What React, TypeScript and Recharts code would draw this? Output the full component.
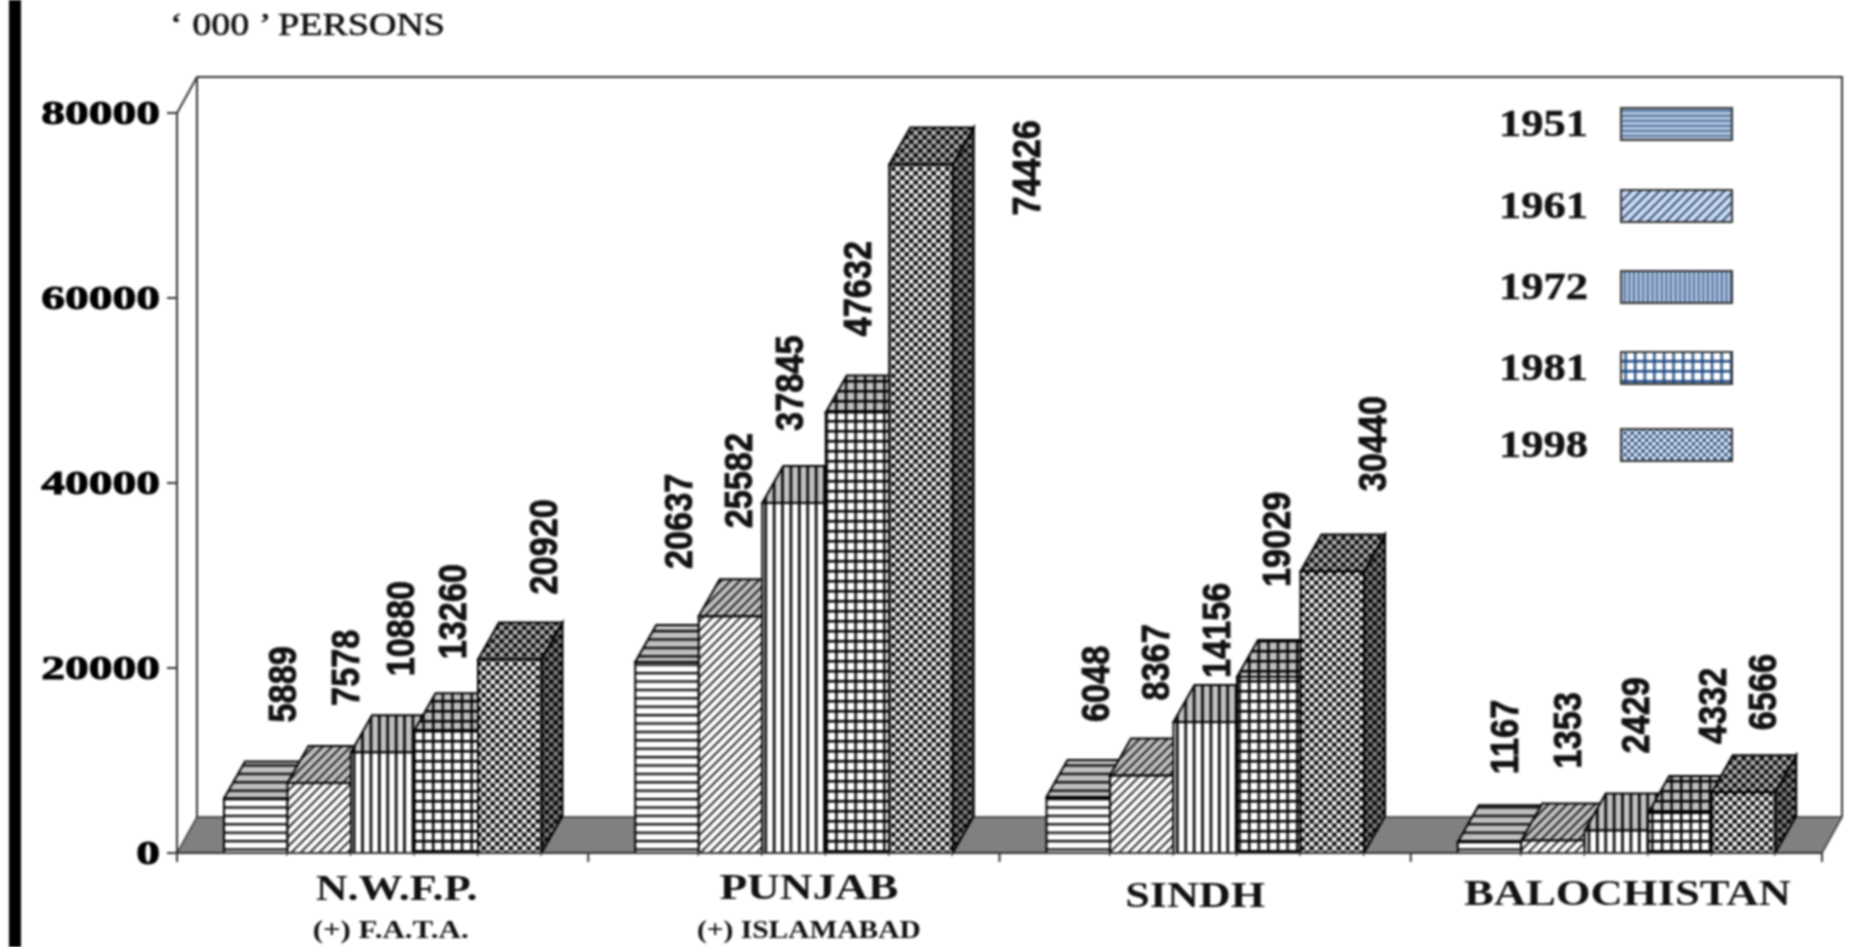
import React from "react";
import { BarChart, Bar, XAxis, YAxis, Legend, LabelList } from "recharts";

const provinces = ["N.W.F.P.", "PUNJAB", "SINDH", "BALOCHISTAN"];
const subtitles = ["(+) F.A.T.A.", "(+) ISLAMABAD", "", ""];
const years = ["1951", "1961", "1972", "1981", "1998"];
const pop1951 = [5889, 20637, 6048, 1167];
const pop1961 = [7578, 25582, 8367, 1353];
const pop1972 = [10880, 37845, 14156, 2429];
const pop1981 = [13260, 47632, 19029, 4332];
const pop1998 = [20920, 74426, 30440, 6566];
const yTicks = [0, 20000, 40000, 60000, 80000];

const seriesValues = [pop1951, pop1961, pop1972, pop1981, pop1998];
const rows = provinces.map((name, i) => {
  const row: any = { name, sub: subtitles[i] };
  years.forEach((y, s) => (row[y] = seriesValues[s][i]));
  return row;
});

// layout and style, apart from the data
const W = 1851, H = 947;
const LEFT = 177, TOP = 113, RIGHT = 1822, BOTTOM = 853;
const WALL_DX = 20, WALL_DY = 36;
const BAR_DX = 21, BAR_DY = 37;
const BAND = (RIGHT - LEFT) / provinces.length;
const SERIF = "'Liberation Serif', serif";
const SANS = "'Liberation Sans', sans-serif";

// hand placement of the rotated value labels, per series then province
const labelDx = [[27, 12, 17, 15], [26, 8, 14, 15], [18, -4, 11, 19], [6, 0, 8, 33], [34, 106, 40, 19]];
const labelGap = [[76, 93, 75, 68], [77, 88, 75, 72], [76, 72, 44, 77], [71, 76, 90, 69], [65, -51, 80, 62]];

const mainWidths = [162, 179, 140, 327];
const subWidths = [156, 224, 0, 0];
const mainDx = [14, 15, -10, 11];
const subDx = [8, 15, 0, 0];
const mainBaseline = [47, 46, 54, 52];
const legendRowY = [24, 106, 187, 268, 345];

function marks(kind: string, ink: string, light: string, under: string) {
  if (kind === "1951") return { size: [8.4, 8.4], el: <rect x={0} y={0} width={8.4} height={2.2} fill={ink} /> };
  if (kind === "1961") return { size: [9.3, 9.3], el: <path d="M-2.3 2.3L2.3 -2.3M0 9.3L9.3 0M7 11.6L11.6 7" stroke={ink} strokeWidth={1.7} /> };
  if (kind === "1972") return { size: [8.4, 8.4], el: <rect x={0} y={0} width={2.6} height={8.4} fill={ink} /> };
  if (kind === "1981") return { size: [9.6, 10], el: <path d="M1 0V10M0 1H9.6" stroke={ink} strokeWidth={2.8} /> };
  return {
    size: [9, 9],
    el: (
      <>
        <rect width={9} height={9} fill={under} />
        <circle cx={2.25} cy={2.25} r={2} fill={light} />
        <circle cx={6.75} cy={6.75} r={2} fill={light} />
        <circle cx={6.75} cy={2.25} r={2.1} fill={ink} />
        <circle cx={2.25} cy={6.75} r={2.1} fill={ink} />
      </>
    ),
  };
}

function Pattern({ id, kind, bg, ink = "#000", scale = 1, light = "#fff", under = "#8a8a8a" }: any) {
  const m = marks(kind, ink, light, under);
  return (
    <pattern id={id} patternUnits="userSpaceOnUse" width={m.size[0] * scale} height={m.size[1] * scale}>
      <g transform={`scale(${scale})`}>
        <rect width={m.size[0]} height={m.size[1]} fill={bg} />
        {m.el}
      </g>
    </pattern>
  );
}

function Backdrop() {
  return (
    <g>
      <defs>
        {years.map((y) => (
          <React.Fragment key={y}>
            <Pattern id={`f-${y}`} kind={y} bg="#fff" />
            <Pattern id={`t-${y}`} kind={y} bg="#c0c0c0" light="#bdbdbd" under="#666" />
            <Pattern id={`s-${y}`} kind={y} bg="#808080" light="#8a8a8a" under="#444" />
          </React.Fragment>
        ))}
      </defs>
      <text x={170} y={35} fontFamily={SERIF} fontSize={31} fill="#111" stroke="#111" strokeWidth={0.6} textLength={275} lengthAdjust="spacingAndGlyphs">
        {"‘ 000 ’ PERSONS"}
      </text>
      <path
        d={`M${LEFT} ${TOP}L${LEFT + WALL_DX} ${TOP - WALL_DY}H${RIGHT + WALL_DX}V${BOTTOM - WALL_DY}M${LEFT + WALL_DX} ${TOP - WALL_DY}V${BOTTOM - WALL_DY}`}
        fill="none"
        stroke="#333"
        strokeWidth={2}
      />
      <polygon
        points={`${LEFT},${BOTTOM} ${LEFT + WALL_DX},${BOTTOM - WALL_DY} ${RIGHT + WALL_DX},${BOTTOM - WALL_DY} ${RIGHT},${BOTTOM}`}
        fill="#808080"
        stroke="#333"
        strokeWidth={1.5}
      />
    </g>
  );
}

function Box(props: any) {
  const { x, y, width: w, height: h, year } = props;
  if (w == null || h == null) return null;
  const edge = { stroke: "#000", strokeWidth: 2 };
  return (
    <g>
      <polygon
        points={`${x + w},${y} ${x + w + BAR_DX},${y - BAR_DY} ${x + w + BAR_DX},${y + h - BAR_DY} ${x + w},${y + h}`}
        fill={`url(#s-${year})`}
        {...edge}
      />
      <polygon
        points={`${x},${y} ${x + BAR_DX},${y - BAR_DY} ${x + w + BAR_DX},${y - BAR_DY} ${x + w},${y}`}
        fill={`url(#t-${year})`}
        {...edge}
      />
      <rect x={x} y={y} width={w} height={h} fill={`url(#f-${year})`} {...edge} />
    </g>
  );
}

function ValueLabel(props: any) {
  const { x, y, width, value, index, seriesIndex } = props;
  if (x == null || value == null) return null;
  const cx = x + width / 2 + labelDx[seriesIndex][index];
  const bottom = y - labelGap[seriesIndex][index];
  return (
    <text
      transform={`translate(${cx},${bottom}) rotate(-90) scale(0.88,1)`}
      dominantBaseline="central"
      fontFamily={SANS}
      fontWeight={700}
      fontSize={39}
      fill="#111"
      stroke="#111"
      strokeWidth={0.9}
    >
      {value}
    </text>
  );
}

function YTick(props: any) {
  const { x, y, payload } = props;
  return (
    <text
      transform={`translate(${x - 5},${y + 11}) scale(1.44,1)`}
      textAnchor="end"
      fontFamily={SERIF}
      fontWeight={700}
      fontSize={33}
      fill="#000"
      stroke="#000"
      strokeWidth={0.9}
    >
      {payload.value}
    </text>
  );
}

function XTick(props: any) {
  const { x, y, payload, index } = props;
  const left = x - BAND / 2;
  return (
    <g>
      <line x1={left} x2={left} y1={y} y2={y + 9} stroke="#333" strokeWidth={2} />
      {index === provinces.length - 1 && <line x1={x + BAND / 2} x2={x + BAND / 2} y1={y} y2={y + 9} stroke="#333" strokeWidth={2} />}
      <text
        x={x + mainDx[index] - mainWidths[index] / 2}
        y={y + mainBaseline[index]}
        fontFamily={SERIF}
        fontWeight={700}
        fontSize={35}
        fill="#111"
        textLength={mainWidths[index]}
        lengthAdjust="spacingAndGlyphs"
      >
        {payload.value}
      </text>
      {subtitles[index] && (
        <text
          x={x + subDx[index] - subWidths[index] / 2}
          y={y + 85}
          fontFamily={SERIF}
          fontWeight={700}
          fontSize={25}
          fill="#111"
          textLength={subWidths[index]}
          lengthAdjust="spacingAndGlyphs"
        >
          {subtitles[index]}
        </text>
      )}
    </g>
  );
}

const legendStyle: any = {
  "1951": { bg: "#b4c6de", ink: "#2a5288", scale: 0.6 },
  "1961": { bg: "#cfdcee", ink: "#0f3468", scale: 1 },
  "1972": { bg: "#b4c6de", ink: "#2a5288", scale: 0.55 },
  "1981": { bg: "#fff", ink: "#1f4a82", scale: 1 },
  "1998": { bg: "#fff", ink: "#123a70", scale: 0.8 },
};

function LegendBlock({ payload }: any) {
  return (
    <svg width={260} height={370} style={{ display: "block" }}>
      <defs>
        {years.map((y) => (
          <Pattern key={y} id={`l-${y}`} kind={y} bg={legendStyle[y].bg} ink={legendStyle[y].ink} scale={legendStyle[y].scale} under="#a9bcd8" />
        ))}
      </defs>
      {(payload || []).map((e: any, i: number) => (
        <g key={e.value}>
          <text x={9} y={legendRowY[i] + 12} fontFamily={SERIF} fontWeight={700} fontSize={38} fill="#111" stroke="#111" strokeWidth={0.5} textLength={89} lengthAdjust="spacingAndGlyphs">
            {e.value}
          </text>
          <rect x={131} y={legendRowY[i] - 16} width={111} height={32} fill={`url(#l-${e.value})`} stroke="#333" strokeWidth={2} />
        </g>
      ))}
    </svg>
  );
}

export default function App() {
  return (
    <div style={{ position: "absolute", left: 0, top: 0, width: W, height: H, background: "#fff", overflow: "hidden", filter: "blur(0.8px)" }}>
      <div style={{ position: "absolute", left: 9, top: 0, width: 12, height: H, background: "#000" }} />
      <BarChart
        width={W}
        height={H}
        data={rows}
        barSize={63.5}
        barGap={0}
        margin={{ top: TOP, right: W - RIGHT, bottom: 0, left: 0 }}
        style={{ position: "absolute", left: 0, top: 0 }}
      >
        <Backdrop />
        <XAxis
          dataKey="name"
          height={H - BOTTOM}
          interval={0}
          tick={<XTick />}
          tickLine={false}
          tickSize={0}
          tickMargin={0}
          axisLine={{ stroke: "#333", strokeWidth: 2 }}
        />
        <YAxis
          width={LEFT}
          domain={[0, 80000]}
          ticks={yTicks}
          tick={<YTick />}
          tickSize={10}
          tickLine={{ stroke: "#333", strokeWidth: 2 }}
          axisLine={{ stroke: "#333", strokeWidth: 2 }}
        />
        <Legend
          layout="vertical"
          align="center"
          verticalAlign="middle"
          wrapperStyle={{ left: 1490, top: 100, width: 260, height: 370 }}
          content={<LegendBlock />}
        />
        {years.map((y, s) => (
          <Bar key={y} dataKey={y} name={y} fill={`url(#f-${y})`} isAnimationActive={false} shape={<Box year={y} />}>
            <LabelList dataKey={y} content={<ValueLabel seriesIndex={s} />} />
          </Bar>
        ))}
      </BarChart>
    </div>
  );
}
